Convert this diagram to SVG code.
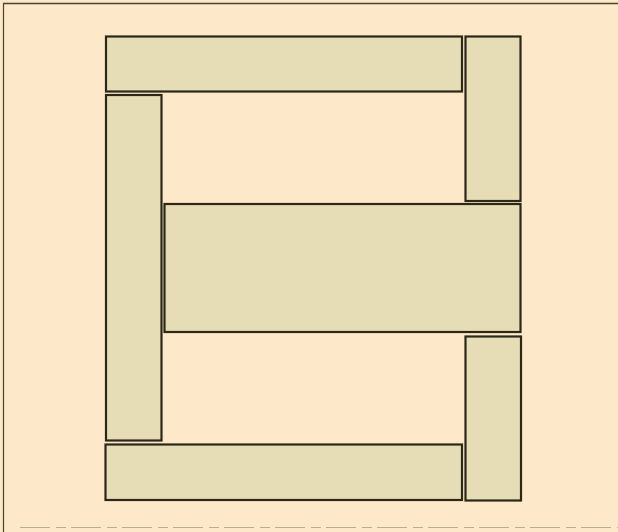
<svg xmlns="http://www.w3.org/2000/svg" width="618" height="532" viewBox="0 0 618 532">
<style>
.bar{fill:#e6dcb6;stroke:#2b2818;stroke-width:2.2}
.frame{stroke:#4a4430;fill:none}
</style>
<rect width="618" height="532" fill="#fde9c9"/>
<line class="frame" x1="3" y1="3.5" x2="618" y2="3.5" stroke-width="1.5"/>
<line class="frame" x1="3.5" y1="3" x2="3.5" y2="532" stroke-width="1.2"/>
<line x1="20" y1="527.5" x2="618" y2="527.5" stroke="#b8ae98" stroke-width="1" stroke-dasharray="30 6 10 5"/>
<g id="top-bar"><rect class="bar" x="106" y="36.5" width="356" height="55"/></g>
<g id="top-right-bar"><rect class="bar" x="465.5" y="36.5" width="55" height="164.5"/></g>
<g id="left-bar"><rect class="bar" x="106" y="95" width="55.5" height="345.5"/></g>
<g id="center-block"><rect class="bar" x="164.5" y="204" width="356" height="128"/></g>
<g id="bottom-right-bar"><rect class="bar" x="465.5" y="336.5" width="55.5" height="164"/></g>
<g id="bottom-bar"><rect class="bar" x="105.5" y="444.5" width="356.5" height="55.5"/></g>
</svg>
